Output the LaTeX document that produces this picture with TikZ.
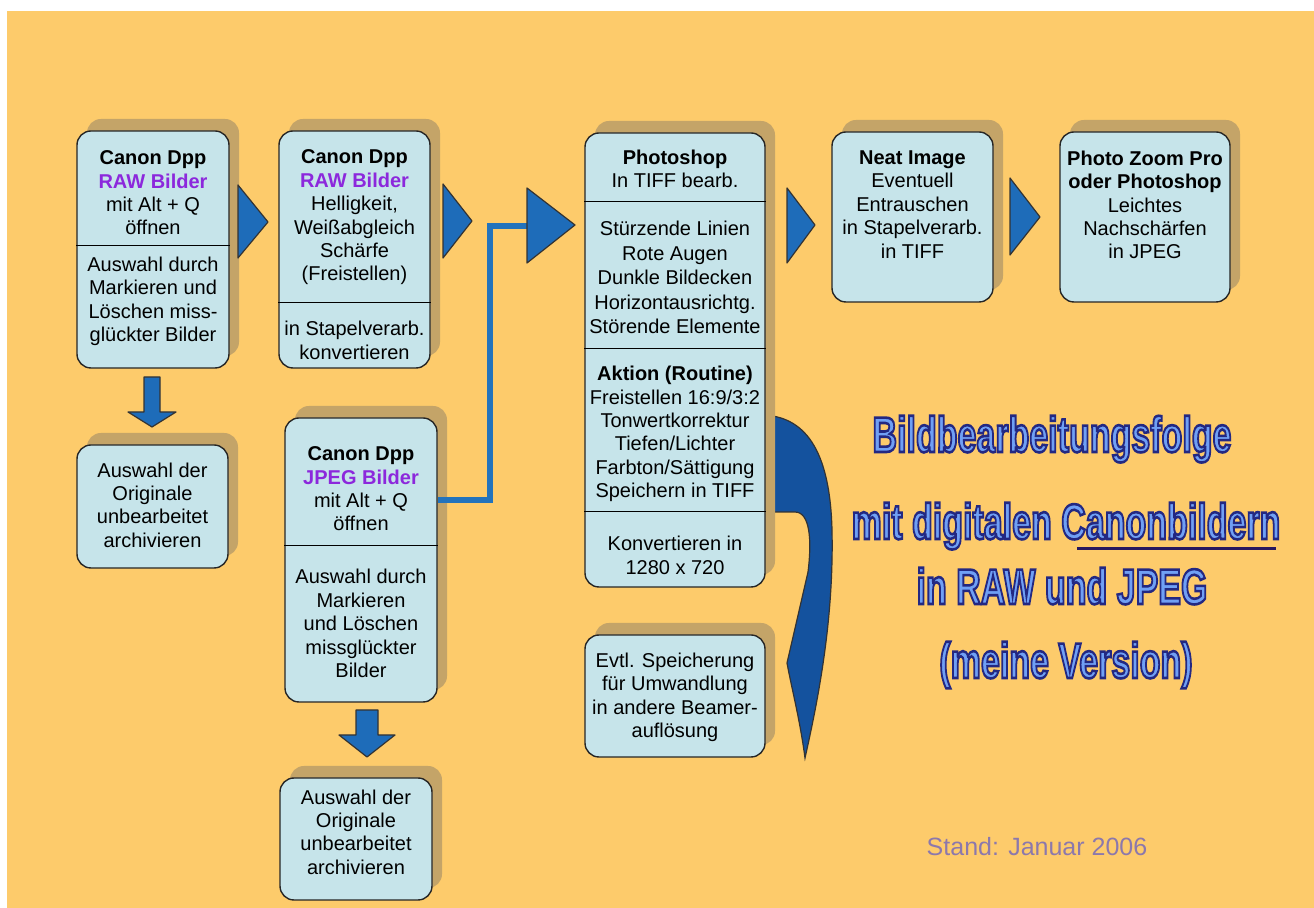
\documentclass[tikz,border=0pt]{standalone}
\usepackage{fontspec}
\setmainfont{Liberation Sans}
\usetikzlibrary{shadows}

\definecolor{bgorange}{RGB}{253,203,107}
\definecolor{boxfill}{RGB}{198,228,234}
\definecolor{shadowtan}{RGB}{196,164,104}
\definecolor{arrowblue}{RGB}{30,108,185}
\definecolor{curveblue}{RGB}{20,82,158}
\definecolor{linkblue}{RGB}{35,115,188}
\definecolor{purpletxt}{RGB}{140,40,220}
\definecolor{titlefill}{RGB}{112,160,245}
\definecolor{titleline}{RGB}{35,40,130}
\definecolor{standcol}{RGB}{140,120,172}

% Umriss-Schrift ueber den PDF-Textmodus
\newcommand{\bildtitel}[1]{\scalebox{0.68}[1]{\textcolor{titlefill}{\special{pdf:literal direct 2 Tr 1.3 w 0.137 0.157 0.51 RG}#1\special{pdf:literal direct 0 Tr}}}}

\tikzset{
  box/.style={draw=black!85, fill=boxfill, line width=0.7pt, rounded corners=7pt, inner sep=0pt,
    general shadow={shadow xshift=5pt, shadow yshift=6pt, fill=shadowtan}},
  txt/.style={align=center, inner sep=0pt, font=\fontsize{10}{11.7}\selectfont},
  pfeil/.style={fill=arrowblue, draw=black!80, line width=0.6pt, line join=round},
  link/.style={draw=linkblue, line width=3pt},
  titel/.style={anchor=base, inner sep=0pt, font=\bfseries\fontsize{25}{26}\selectfont}
}

\begin{document}
\begin{tikzpicture}[x=0.5pt,y=-0.5pt]

\useasboundingbox (0,0) rectangle (1314,908);
\fill[bgorange] (7,11) rectangle (1314,908);

% Pfeil vom Photoshop-Kasten nach unten
\draw[fill=curveblue, draw=black!80, line width=0.6pt] (760,415) .. controls (805,415) and (830,450) .. (832,530)
  .. controls (834,620) and (818,700) .. (805,758) .. controls (800,720) and (792,690) .. (787,663)
  -- (808,572) .. controls (812,540) and (810,512) .. (795,512) -- (760,512) -- cycle;

% Kaesten
\node[box, minimum width=76pt, minimum height=118.5pt] (rawA) at (153,249.5) {};
\node[box, minimum width=75.5pt, minimum height=118.5pt] (rawB) at (354.5,249.5) {};
\node[box, minimum width=90pt, minimum height=227pt] (ps) at (675,360) {};
\node[box, minimum width=80.5pt, minimum height=85pt] (neat) at (912.5,217) {};
\node[box, minimum width=85pt, minimum height=85pt] (zoom) at (1145,217) {};
\node[box, minimum width=75.5pt, minimum height=61.5pt] (archA) at (152.5,506.5) {};
\node[box, minimum width=76pt, minimum height=142pt] (jpg) at (361,560) {};
\node[box, minimum width=76pt, minimum height=61pt] (archB) at (356,839) {};
\node[box, minimum width=90pt, minimum height=61pt] (beamer) at (675,696) {};

% Trennlinien
\draw (rawA.west |- 0,245) -- (rawA.east |- 0,245);
\draw (rawB.west |- 0,302) -- (rawB.east |- 0,302);
\draw (ps.west |- 0,201) -- (ps.east |- 0,201);
\draw (ps.west |- 0,348) -- (ps.east |- 0,348);
\draw (ps.west |- 0,511) -- (ps.east |- 0,511);
\draw (jpg.west |- 0,545) -- (jpg.east |- 0,545);

% Texte
\node[txt] (rawA1) at (153,193) {\textbf{Canon Dpp}\\\textcolor{purpletxt}{\textbf{RAW Bilder}}\\mit Alt + Q\\öffnen};
\node[txt] (rawA2) at (153,301.5) {Auswahl durch\\Markieren und\\Löschen miss-\\glückter Bilder};
\node[txt] (rawB1) at (354.5,217.5) {\textbf{Canon Dpp}\\\textcolor{purpletxt}{\textbf{RAW Bilder}}\\Helligkeit,\\Weißabgleich\\Schärfe\\(Freistellen)};
\node[txt] (rawB2) at (354.5,340.5) {in Stapelverarb.\\konvertieren};
\node[txt] (ps1) at (675,169) {\textbf{Photoshop}\\In TIFF bearb.};
\node[txt, font=\fontsize{10}{12.3}\selectfont] (ps2) at (675,277.5) {Stürzende Linien\\Rote Augen\\Dunkle Bildecken\\Horizontausrichtg.\\Störende Elemente};
\node[txt] (ps3) at (675,434) {\textbf{Aktion (Routine)}\\Freistellen 16:9/3:2\\Tonwertkorrektur\\Tiefen/Lichter\\Farbton/Sättigung\\Speichern in TIFF};
\node[txt] (ps4) at (675,555.5) {Konvertieren in\\1280 x 720};
\node[txt] (neat1) at (912.5,204.5) {\textbf{Neat Image}\\Eventuell\\Entrauschen\\in Stapelverarb.\\in TIFF};
\node[txt] (zoom1) at (1145,205) {\textbf{Photo Zoom Pro}\\\textbf{oder Photoshop}\\Leichtes\\Nachschärfen\\in JPEG};
\node[txt] (archA1) at (152.5,505) {Auswahl der\\Originale\\unbearbeitet\\archivieren};
\node[txt] (jpg1) at (361,489) {\textbf{Canon Dpp}\\\textcolor{purpletxt}{\textbf{JPEG Bilder}}\\mit Alt + Q\\öffnen};
\node[txt] (jpg2) at (361,623.5) {Auswahl durch\\Markieren\\und Löschen\\missglückter\\Bilder};
\node[txt] (archB1) at (356,832) {Auswahl der\\Originale\\unbearbeitet\\archivieren};
\node[txt] (beamer1) at (675,697.5) {Evtl. Speicherung\\für Umwandlung\\in andere Beamer-\\auflösung};

% Pfeile zwischen den Kaesten
\draw[pfeil] (238,185) -- (268,222) -- (238,258) -- cycle;
\draw[pfeil] (443,184) -- (472,221) -- (443,258) -- cycle;
\draw[pfeil] (787,188) -- (815,225) -- (787,263) -- cycle;
\draw[pfeil] (1010,178) -- (1040,217) -- (1010,255) -- cycle;
\coordinate (tri) at (527,226);
\draw[link] (jpg.east |- 0,500) -- (490,500) |- (tri);
\draw[pfeil] (527,188) -- (575,225) -- (527,263) -- cycle;

% Pfeile nach unten
\draw[pfeil] (144,377) -- (160,377) -- (160,412) -- (176,412) -- (152,427) -- (128,412) -- (144,412) -- cycle;
\draw[pfeil] (356,710) -- (378,710) -- (378,735) -- (395,735) -- (367,757) -- (339,735) -- (356,735) -- cycle;

% Titel
\node[titel] (titel1) at (1052,452) {\bildtitel{Bildbearbeitungsfolge}};
\node[titel] (titel2) at (1066,539) {\bildtitel{mit digitalen Canonbildern}};
\node[titel] (titel3) at (1062,604) {\bildtitel{in RAW und JPEG}};
\node[titel] (titel4) at (1066,678) {\bildtitel{(meine Version)}};
\draw[titleline!70!purpletxt!60!black, line width=1.5pt] (1077,549) -- (1276,549);

\node[font=\fontsize{12.5}{14}\selectfont, text=standcol] (stand) at (1037,847) {Stand: Januar 2006};

\end{tikzpicture}
\end{document}
